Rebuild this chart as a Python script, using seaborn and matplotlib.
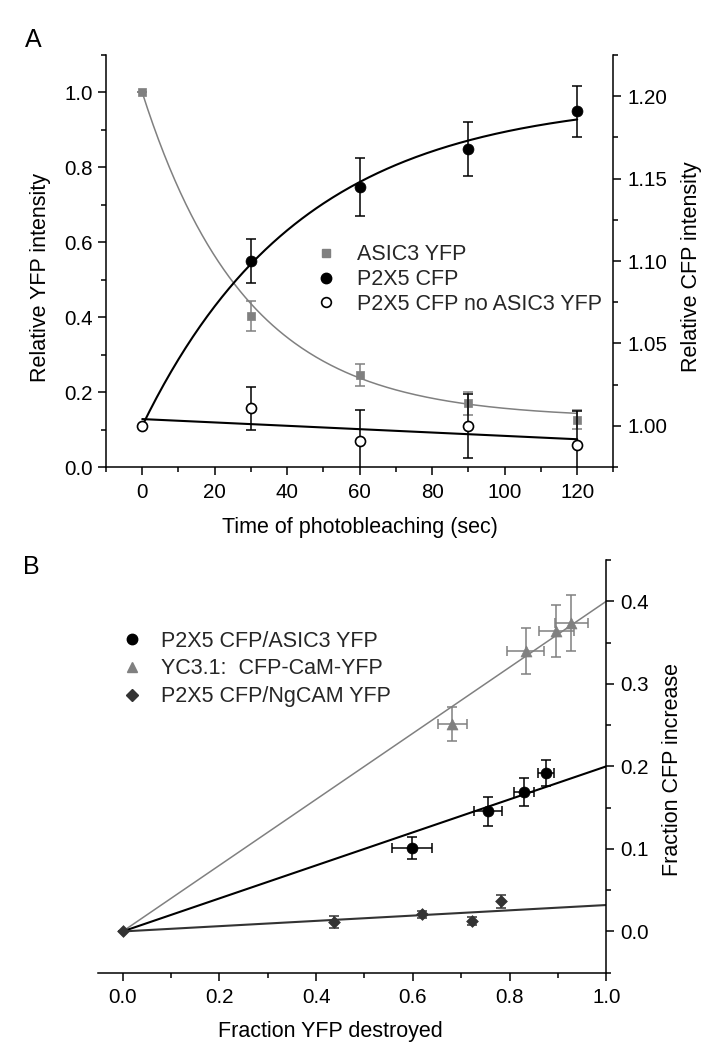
import numpy as np
import matplotlib
matplotlib.use("Agg")
import matplotlib.pyplot as plt
from matplotlib.lines import Line2D
from matplotlib.ticker import FixedLocator
import seaborn as sns

# ---------------- data: panel A ----------------
time_yfp = [0, 30, 60, 90, 120]
asic3_yfp = [1.00, 0.403, 0.246, 0.170, 0.126]
asic3_yfp_err = [0.0, 0.040, 0.029, 0.030, 0.025]

time_cfp = [30, 60, 90, 120]
p2x5_cfp = [1.100, 1.145, 1.168, 1.191]
p2x5_cfp_err = [0.0135, 0.0175, 0.0166, 0.0155]

time_ctrl = [0, 30, 60, 90, 120]
p2x5_ctrl = [1.000, 1.0107, 0.9909, 1.000, 0.9885]
p2x5_ctrl_err = [0.0, 0.013, 0.0185, 0.0196, 0.0205]

# fit parameters (panel A)
yfp_fit_c, yfp_fit_tau = 0.13, 28.7          # c + (1-c)*exp(-t/tau)
cfp_fit_amp, cfp_fit_tau = 0.199, 44.1       # 1 + A*(1-exp(-t/tau))
ctrl_fit_icpt, ctrl_fit_slope = 1.0041, -0.000102

# ---------------- data: panel B ----------------
asic_x = [0.598, 0.756, 0.830, 0.875]
asic_xerr = [0.041, 0.029, 0.0215, 0.0167]
asic_y = [0.101, 0.1458, 0.1693, 0.1916]
asic_yerr = [0.0137, 0.0176, 0.0168, 0.0158]

yc_x = [0.682, 0.833, 0.897, 0.928]
yc_xerr = [0.0295, 0.038, 0.036, 0.035]
yc_y = [0.251, 0.3394, 0.3637, 0.374]
yc_yerr = [0.0203, 0.028, 0.0318, 0.0338]

ng_x = [0.0, 0.437, 0.620, 0.723, 0.783]
ng_y = [0.0, 0.0113, 0.0207, 0.0125, 0.0364]
ng_yerr = [0.0, 0.007, 0.004, 0.005, 0.0075]

slope_asic, slope_yc, slope_ng = 0.2, 0.4, 0.032

labels_a = ["ASIC3 YFP", "P2X5 CFP", "P2X5 CFP no ASIC3 YFP"]
labels_b = ["P2X5 CFP/ASIC3 YFP", "YC3.1:  CFP-CaM-YFP", "P2X5 CFP/NgCAM YFP"]

# ---------------- style ----------------
sns.set_theme(style="ticks")
plt.rcParams["font.family"] = ["Liberation Sans", "DejaVu Sans"]
plt.rcParams["axes.linewidth"] = 1.1
GRAY = "#808080"
DARK = "#333333"
TICK_FS = 14.8
LAB_FS = 15.5

fig = plt.figure(figsize=(7.23, 10.5), dpi=100)
axA = fig.add_axes([0.1466, 0.5552, 0.7019, 0.3924])
axA2 = axA.twinx()
axB = fig.add_axes([0.1361, 0.0736, 0.7025, 0.3931])

def style_ticks(ax, axis, pad=3.5):
    ax.tick_params(axis=axis, which="major", direction="out", length=5.8, width=1.1,
                   labelsize=TICK_FS, pad=pad, color="black", labelcolor="black")
    ax.tick_params(axis=axis, which="minor", direction="out", length=3.6, width=1.1,
                   color="black")

eb_kw = dict(fmt="none", capsize=3.3, elinewidth=1.1, capthick=1.1)

# ---------- Panel A ----------
t = np.linspace(0, 120, 241)
yfp_curve = yfp_fit_c + (1 - yfp_fit_c) * np.exp(-t / yfp_fit_tau)
cfp_curve = 1 + cfp_fit_amp * (1 - np.exp(-t / cfp_fit_tau))
ctrl_curve = ctrl_fit_icpt + ctrl_fit_slope * t

sns.lineplot(x=t, y=yfp_curve, ax=axA, color=GRAY, lw=1.1, zorder=2)
axA.errorbar(time_yfp, asic3_yfp, yerr=asic3_yfp_err, ecolor=GRAY, zorder=3, **eb_kw)
sns.scatterplot(x=time_yfp, y=asic3_yfp, ax=axA, marker="s", s=38, color=GRAY,
                edgecolor=GRAY, linewidth=0.5, zorder=4)

sns.lineplot(x=t, y=cfp_curve, ax=axA2, color="black", lw=1.5, zorder=2)
sns.lineplot(x=t, y=ctrl_curve, ax=axA2, color="black", lw=1.5, zorder=2)
axA2.errorbar(time_cfp, p2x5_cfp, yerr=p2x5_cfp_err, ecolor="black", zorder=3, **eb_kw)
axA2.errorbar(time_ctrl, p2x5_ctrl, yerr=p2x5_ctrl_err, ecolor="black", zorder=3, **eb_kw)
sns.scatterplot(x=time_cfp, y=p2x5_cfp, ax=axA2, marker="o", s=62, color="black",
                edgecolor="black", linewidth=0.5, zorder=4)
sns.scatterplot(x=time_ctrl, y=p2x5_ctrl, ax=axA2, marker="o", s=52, color="white",
                edgecolor="black", linewidth=1.2, zorder=5)

axA.set_xlim(-10, 130)
axA.set_ylim(0, 1.1)
axA2.set_ylim(0.975, 1.225)
axA.xaxis.set_major_locator(FixedLocator([0, 20, 40, 60, 80, 100, 120]))
axA.xaxis.set_minor_locator(FixedLocator([-10, 10, 30, 50, 70, 90, 110, 130]))
axA.yaxis.set_major_locator(FixedLocator([0.0, 0.2, 0.4, 0.6, 0.8, 1.0]))
axA.yaxis.set_minor_locator(FixedLocator([0.1, 0.3, 0.5, 0.7, 0.9, 1.1]))
axA2.yaxis.set_major_locator(FixedLocator([1.00, 1.05, 1.10, 1.15, 1.20]))
axA2.yaxis.set_minor_locator(FixedLocator([0.975, 1.025, 1.075, 1.125, 1.175, 1.225]))
axA.set_yticklabels(["0.0", "0.2", "0.4", "0.6", "0.8", "1.0"])
axA2.set_yticklabels(["1.00", "1.05", "1.10", "1.15", "1.20"])
axA.set_xticklabels(["0", "20", "40", "60", "80", "100", "120"])
style_ticks(axA, "y", pad=3.5)
style_ticks(axA, "x", pad=5.5)
style_ticks(axA2, "y", pad=4.5)
axA.spines["top"].set_visible(False)
axA.spines["right"].set_visible(False)
for s in ["top", "left", "bottom"]:
    axA2.spines[s].set_visible(False)
axA2.spines["right"].set_linewidth(1.1)
axA.set_xlabel("")
axA.set_ylabel("")
axA2.set_ylabel("")
for sp in axA.spines.values():
    sp.set_color("black")
axA2.spines["right"].set_color("black")

handles_a = [
    Line2D([], [], ls="none", marker="s", ms=5.8, color=GRAY, mec=GRAY),
    Line2D([], [], ls="none", marker="o", ms=7.5, color="black", mec="black"),
    Line2D([], [], ls="none", marker="o", ms=7, mfc="white", mec="black", mew=1.2),
]
axA2.legend(handles_a, labels_a, loc="upper left", bbox_to_anchor=(0.4356, 0.7672),
            bbox_transform=fig.transFigure, frameon=False, fontsize=LAB_FS,
            handlelength=1.0, handletextpad=0.96, labelspacing=0.17,
            borderpad=0, borderaxespad=0)

# ---------- Panel B ----------
xl = np.array([0.0, 1.0])
sns.lineplot(x=xl, y=slope_yc * xl, ax=axB, color=GRAY, lw=1.1, zorder=2)
sns.lineplot(x=xl, y=slope_asic * xl, ax=axB, color="black", lw=1.5, zorder=2)
sns.lineplot(x=xl, y=slope_ng * xl, ax=axB, color=DARK, lw=1.5, zorder=2)

axB.errorbar(yc_x, yc_y, xerr=yc_xerr, yerr=yc_yerr, ecolor=GRAY, zorder=3, **eb_kw)
axB.errorbar(asic_x, asic_y, xerr=asic_xerr, yerr=asic_yerr, ecolor="black", zorder=3, **eb_kw)
axB.errorbar(ng_x, ng_y, yerr=ng_yerr, ecolor=DARK, zorder=3, **eb_kw)
sns.scatterplot(x=asic_x, y=asic_y, ax=axB, marker="o", s=62, color="black",
                edgecolor="black", linewidth=0.5, zorder=4)
sns.scatterplot(x=yc_x, y=yc_y, ax=axB, marker="^", s=62, color=GRAY,
                edgecolor=GRAY, linewidth=0.5, zorder=4)
sns.scatterplot(x=ng_x, y=ng_y, ax=axB, marker="D", s=36, color=DARK,
                edgecolor=DARK, linewidth=0.5, zorder=4)

axB.set_xlim(-0.05, 1.0)
axB.set_ylim(-0.05, 0.45)
axB.yaxis.tick_right()
axB.xaxis.set_major_locator(FixedLocator([0.0, 0.2, 0.4, 0.6, 0.8, 1.0]))
axB.xaxis.set_minor_locator(FixedLocator([0.1, 0.3, 0.5, 0.7, 0.9]))
axB.yaxis.set_major_locator(FixedLocator([0.0, 0.1, 0.2, 0.3, 0.4]))
axB.yaxis.set_minor_locator(FixedLocator([-0.05, 0.05, 0.15, 0.25, 0.35, 0.45]))
axB.set_xticklabels(["0.0", "0.2", "0.4", "0.6", "0.8", "1.0"])
axB.set_yticklabels(["0.0", "0.1", "0.2", "0.3", "0.4"])
style_ticks(axB, "x", pad=5.0)
style_ticks(axB, "y", pad=4.0)
axB.tick_params(axis="y", which="both", left=False, right=True, labelleft=False,
                labelright=True)
axB.spines["top"].set_visible(False)
axB.spines["left"].set_visible(False)
axB.spines["right"].set_visible(True)
for sp in axB.spines.values():
    sp.set_color("black")
    sp.set_linewidth(1.1)
axB.set_xlabel("")
axB.set_ylabel("")

handles_b = [
    Line2D([], [], ls="none", marker="o", ms=7.5, color="black", mec="black"),
    Line2D([], [], ls="none", marker="^", ms=7.5, color=GRAY, mec=GRAY),
    Line2D([], [], ls="none", marker="D", ms=6, color=DARK, mec=DARK),
]
axB.legend(handles_b, labels_b, loc="upper left", bbox_to_anchor=(0.1672, 0.3995),
           bbox_transform=fig.transFigure, frameon=False, fontsize=LAB_FS,
           handlelength=1.0, handletextpad=0.85, labelspacing=0.32,
           borderpad=0, borderaxespad=0)

# ---------- labels ----------
W, H = 723.0, 1050.0
def ft(x, y, s, **kw):
    fig.text(x / W, 1 - y / H, s, ha="center", va="center", color="black", **kw)

ft(33, 40, "A", fontsize=18)
ft(31, 567, "B", fontsize=18)
ft(41, 277, "Relative YFP intensity", fontsize=LAB_FS, rotation=90)
ft(692, 267, "Relative CFP intensity", fontsize=LAB_FS, rotation=90)
ft(360, 528, "Time of photobleaching (sec)", fontsize=LAB_FS)
ft(673, 770, "Fraction CFP increase", fontsize=LAB_FS, rotation=90)
ft(330, 1032, "Fraction YFP destroyed", fontsize=LAB_FS)

fig.savefig("out.png", dpi=100)
